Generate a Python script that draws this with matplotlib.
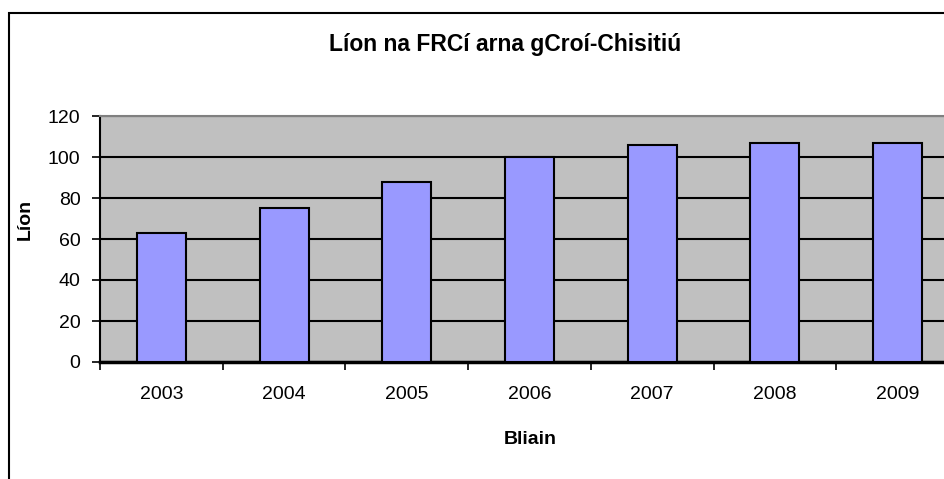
import matplotlib
matplotlib.use("Agg")
import matplotlib.pyplot as plt
from matplotlib.patches import Rectangle
import numpy as np

years = ["2003", "2004", "2005", "2006", "2007", "2008", "2009"]
values = [63, 75, 88, 100, 106, 107, 107]
yticks = [0, 20, 40, 60, 80, 100, 120]
title = "Líon na FRCí arna gCroí-Chisitiú"
xlabel = "Bliain"
ylabel = "Líon"

plt.rcParams['font.family'] = ['Liberation Sans', 'DejaVu Sans']

fig = plt.figure(figsize=(9.45, 4.79), dpi=100)
W, H = 945, 479

# outer chart border (extends beyond the right/bottom edges)
fig.patches.append(Rectangle((9 / W, -0.1), 1.2, (H - 13) / H + 0.1,
                             transform=fig.transFigure, fill=False,
                             edgecolor='black', linewidth=1.5, zorder=0))

ax = fig.add_axes([100 / W, (H - 362) / H, 859 / W, 246 / H])
ax.set_facecolor('#C0C0C0')

pos = np.arange(len(years)) + 0.5
ax.bar(pos, values, width=0.4, color='#9999FF', edgecolor='black',
       linewidth=1.5, zorder=3)

ax.set_xlim(0, len(years))
ax.set_ylim(0, 120)
ax.set_yticks(yticks)
ax.set_yticklabels([str(v) for v in yticks], fontsize=14)
ax.yaxis.grid(True, color='black', linewidth=1.5, zorder=1)
ax.set_axisbelow(True)

ax.set_xticks(np.arange(len(years) + 1))
ax.set_xticklabels([])
ax.set_xticks(pos, minor=True)
ax.set_xticklabels(years, minor=True, fontsize=14)
ax.tick_params(axis='x', which='major', length=6, width=1.2, direction='out')
ax.tick_params(axis='x', which='minor', length=0, pad=17)
ax.tick_params(axis='y', length=6, width=1.2, direction='out', pad=8)

for s in ['top', 'right']:
    ax.spines[s].set_color('#808080')
    ax.spines[s].set_linewidth(1.5)
ax.spines['left'].set_color('black')
ax.spines['left'].set_linewidth(1.5)
ax.spines['bottom'].set_color('black')
ax.spines['bottom'].set_linewidth(2.5)

fig.text(505 / W, 1 - 51 / H, title, ha='center', va='baseline',
         fontsize=16.5, fontweight='bold')
fig.text(530 / W, 1 - 440 / H, xlabel, ha='center', va='center',
         fontsize=14, fontweight='bold')
fig.text(25 / W, 1 - 219 / H, ylabel, ha='center', va='center',
         fontsize=14, fontweight='bold', rotation=90)

fig.savefig('out.png', dpi=100)
